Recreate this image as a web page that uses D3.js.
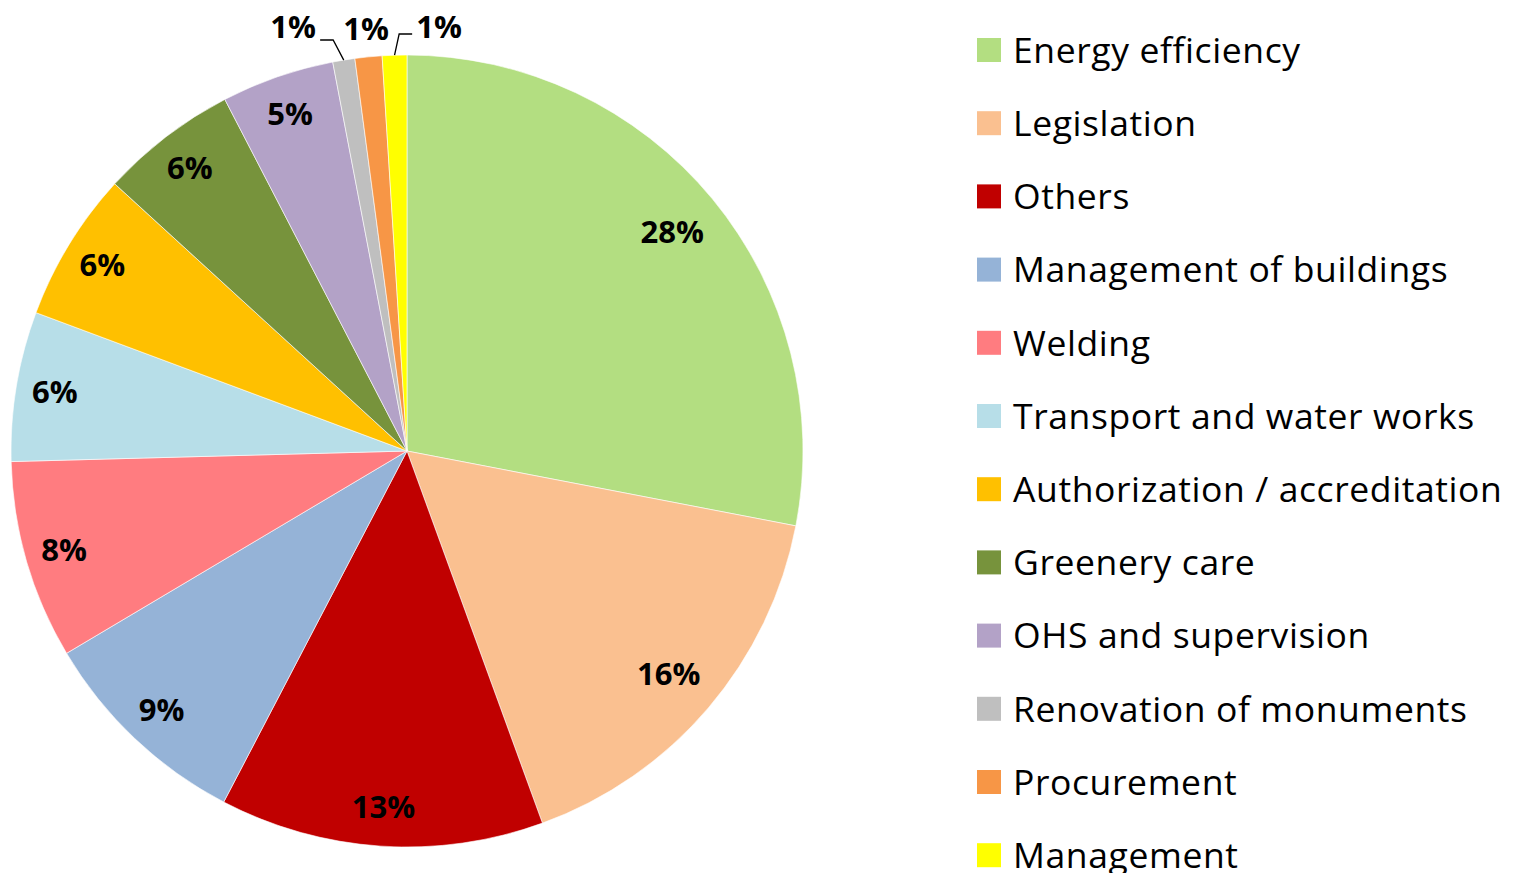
<!DOCTYPE html>
<html>
<head>
<meta charset="utf-8">
<script src="https://cdn.jsdelivr.net/npm/d3@7"></script>
<style>
  body { margin: 0; background: #fff; }
  text { font-family: "Open Sans", sans-serif; }
</style>
</head>
<body>
<div id="chart-area"></div>
<script>
// categories, values (shares) and colours
var categories = ["Energy efficiency", "Legislation", "Others", "Management of buildings",
    "Welding", "Transport and water works", "Authorization / accreditation", "Greenery care",
    "OHS and supervision", "Renovation of monuments", "Procurement", "Management"];
var values = [28.0, 16.4, 13.2, 8.8, 8.1, 6.1, 6.1, 5.6, 4.6, 0.9, 1.1, 1.0];
var colours = ["#B3DE81", "#FAC090", "#C00000", "#95B3D7", "#FF7C80", "#B7DEE8",
    "#FFC000", "#77933C", "#B3A2C7", "#BFBFBF", "#F79646", "#FFFF00"];

var width = 1514, height = 873;
var cx = 407, cy = 451, R = 396;

var svg = d3.select("#chart-area").append("svg")
    .attr("width", width)
    .attr("height", height);

var data = categories.map((c, i) => { return {name: c, value: values[i]}; });
var total = d3.sum(values);

var colour = d3.scaleOrdinal()
    .domain(categories)
    .range(colours);

var pie = d3.pie()
    .sort(null)
    .value((d) => { return d.value; });

var arcs = pie(data);

var arc = d3.arc().innerRadius(0).outerRadius(R);
var edgeArc = d3.arc().innerRadius(R).outerRadius(R);
// excel puts labels of wide slices a bit further in
var labelPos = (d) => {
    var share = d.data.value / total;
    var r = share > 0.15 ? 344 : 357;
    return d3.arc().innerRadius(r).outerRadius(r).centroid(d);
};

var g = svg.append("g").attr("transform", "translate(" + cx + "," + cy + ")");

g.selectAll("path")
    .data(arcs)
    .enter()
    .append("path")
        .attr("d", arc)
        .attr("fill", (d) => { return colour(d.data.name); })
        .attr("stroke", "#fff")
        .attr("stroke-width", 0.6);

var pct = (d) => { return Math.round(d.data.value / total * 100) + "%"; };

// big slices: label inside
var inside = arcs.filter((d) => { return d.data.value / total > 0.02; });
g.selectAll("text.in")
    .data(inside)
    .enter()
    .append("text")
        .attr("class", "in")
        .attr("transform", (d) => { return "translate(" + labelPos(d) + ")"; })
        .attr("text-anchor", "middle")
        .attr("dy", "0.36em")
        .attr("font-size", 31)
        .attr("font-weight", "bold")
        .text(pct);

// small slices: label outside, spread apart
var outside = arcs.filter((d) => { return d.data.value / total <= 0.02; });
var midIdx = Math.floor(outside.length / 2);
var spread = 73;
var outY = 27 - cy;
var baseX = R * 1.06 * Math.sin((outside[midIdx].startAngle + outside[midIdx].endAngle) / 2);

outside.forEach((d, i) => {
    var lx = baseX + (i - midIdx) * spread;
    g.append("text")
        .attr("x", lx)
        .attr("y", outY + (i - midIdx === 0 ? 2 : 0))
        .attr("text-anchor", "middle")
        .attr("dy", "0.36em")
        .attr("font-size", 31)
        .attr("font-weight", "bold")
        .text(pct(d));

    if (i !== midIdx) {
        var e = edgeArc.centroid(d);
        var side = i < midIdx ? 1 : -1;
        var ly = i < midIdx ? outY + 13 : outY + 7;
        var x1 = lx + side * 27, x2 = lx + side * 40;
        g.append("polyline")
            .attr("points", [[x1, ly], [x2, ly], e].join(" "))
            .attr("fill", "none")
            .attr("stroke", "#000")
            .attr("stroke-width", 1.3);
    }
});

// legend
var y = d3.scaleBand()
    .domain(categories)
    .range([13.4, 13.4 + 73.2 * categories.length]);

var legend = svg.append("g").attr("transform", "translate(977,0)");
var item = legend.selectAll("g")
    .data(categories)
    .enter()
    .append("g")
        .attr("transform", (d) => { return "translate(0," + (y(d) + y.bandwidth() / 2) + ")"; });

item.append("rect")
    .attr("x", 0)
    .attr("y", -12)
    .attr("width", 24)
    .attr("height", 24)
    .attr("fill", (d) => { return colour(d); });

item.append("text")
    .attr("x", 36)
    .attr("dy", "0.36em")
    .attr("font-size", 35.5)
    .attr("letter-spacing", 0.6)
    .attr("fill", "#000")
    .text((d) => { return d; });
</script>
</body>
</html>
